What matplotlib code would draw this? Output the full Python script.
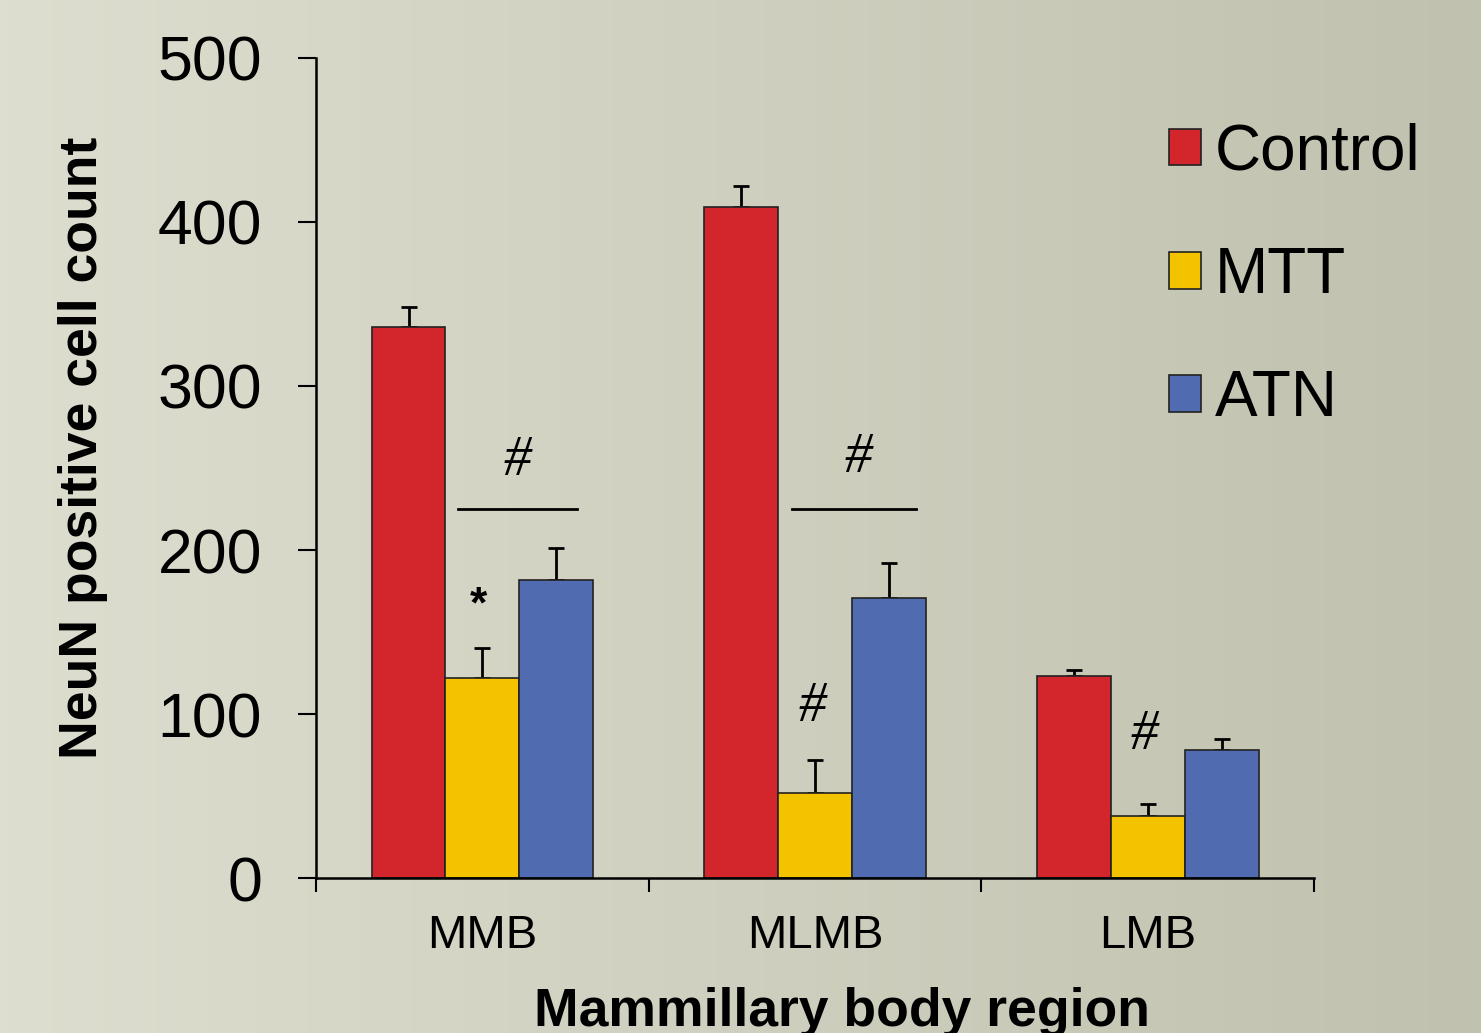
import numpy as np
import matplotlib
matplotlib.use("Agg")
import matplotlib.pyplot as plt
from matplotlib.patches import Patch

plt.rcParams['font.family'] = ['Liberation Sans', 'DejaVu Sans']

regions = ["MMB", "MLMB", "LMB"]
groups = ["Control", "MTT", "ATN"]
means = {
    "Control": [336, 409, 123],
    "MTT": [122, 52, 38],
    "ATN": [182, 171, 78],
}
errors = {
    "Control": [12, 13, 4],
    "MTT": [18, 20, 7],
    "ATN": [19, 21, 7],
}
colors = {"Control": "#d2262c", "MTT": "#f4c300", "ATN": "#516bb0"}

# significance marks: (text, x, y)
marks = [("#", 0.105, 254), ("*", -0.012, 166), ("#", 1.13, 256),
         ("#", 0.991, 104), ("#", 1.99, 87)]
# bracket lines over MTT/ATN pairs: (x0, x1, y)
brackets = [(-0.072, 0.285, 225), (0.93, 1.303, 225)]

fig = plt.figure(figsize=(14.81, 10.33), dpi=100)

# soft horizontal gradient behind everything
bg = fig.add_axes([0, 0, 1, 1], zorder=-10)
left_c = np.array([221, 222, 207]) / 255
right_c = np.array([193, 193, 175]) / 255
t = np.linspace(0, 1, 256)[None, :, None]
grad = left_c * (1 - t) + right_c * t
bg.imshow(grad, aspect="auto", extent=[0, 1, 0, 1])
bg.axis("off")

ax = fig.add_axes([0.2134, 0.15, 0.8873 - 0.2134, 0.7939])
ax.set_facecolor("none")

x = np.arange(len(regions))
w = 0.222
for i, g in enumerate(groups):
    ax.bar(x + (i - 1) * w, means[g], w, color=colors[g], edgecolor="#222222",
           linewidth=1.2, zorder=2, label=g)
    ax.errorbar(x + (i - 1) * w, means[g], yerr=[np.zeros(3), errors[g]],
                fmt="none", ecolor="black", elinewidth=2, capsize=6,
                capthick=2, zorder=1)

for txt, tx, ty in marks:
    if txt == "#":
        ax.text(tx, ty, txt, ha="center", va="center", fontsize=40,
                family=["Liberation Serif"], style="italic")
    else:
        ax.text(tx, ty, txt, ha="center", va="center", fontsize=32,
                fontweight="bold")
for x0, x1, y in brackets:
    ax.plot([x0, x1], [y, y], color="black", lw=2)

ax.set_xlim(-0.5, 2.5)
ax.set_ylim(0, 500)
ax.set_yticks([0, 100, 200, 300, 400, 500])
ax.tick_params(axis="y", labelsize=45, length=13, width=1.5, pad=26)
ax.set_xticks([-0.5, 0.5, 1.5, 2.5])
ax.set_xticklabels([])
ax.set_xticks(x, minor=True)
ax.set_xticklabels(regions, minor=True)
ax.tick_params(axis="x", which="major", length=10, width=1.5, direction="out")
ax.tick_params(axis="x", which="minor", length=0, labelsize=34, pad=26)
for s in ["top", "right"]:
    ax.spines[s].set_visible(False)
for s in ["left", "bottom"]:
    ax.spines[s].set_linewidth(1.8)

ax.set_xlabel("Mammillary body region", fontsize=38.5, fontweight="bold")
ax.set_ylabel("NeuN positive cell count", fontsize=38.5, fontweight="bold")
ax.xaxis.set_label_coords(0.527, -0.133)
ax.yaxis.set_label_coords(-0.208, 0.524)

handles = [Patch(facecolor=colors[g], edgecolor="#222222", linewidth=1.2) for g in groups]
ax.legend(handles, groups, loc="upper left", bbox_to_anchor=(0.829, 0.952),
          frameon=False, fontsize=46, handlelength=0.5, handleheight=0.5,
          handletextpad=0.22, labelspacing=0.99, borderaxespad=0)

fig.savefig("out.png", dpi=100)
